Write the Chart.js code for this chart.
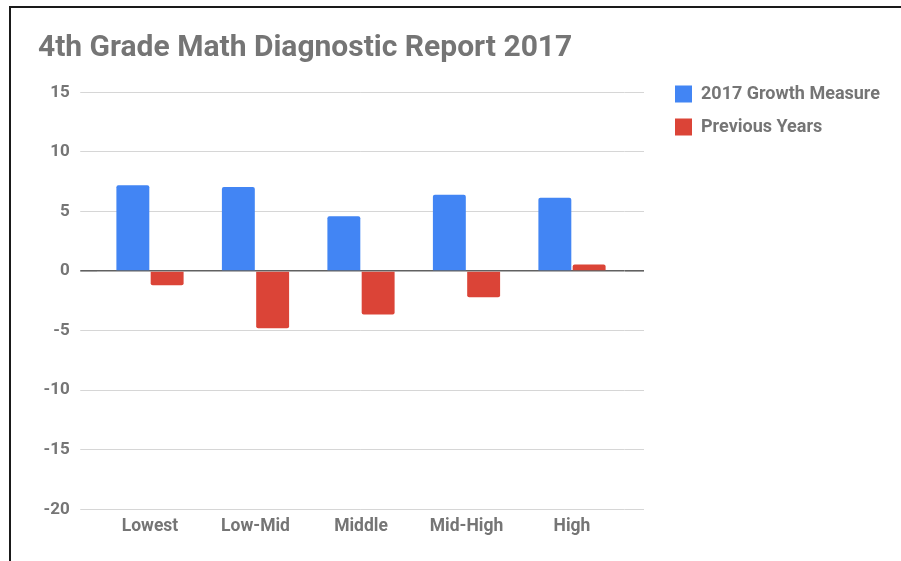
<!DOCTYPE html>
<html>
<head>
<meta charset="utf-8">
<script src="https://cdn.jsdelivr.net/npm/chart.js@4.4.0/dist/chart.umd.min.js"></script>
<style>
  html, body { margin: 0; padding: 0; background: #fff; }
  #wrap { position: relative; width: 901px; height: 561px; overflow: hidden; }
  #frame { position: absolute; left: 9px; top: 6px; right: -4px; bottom: -4px;
           border-top: 2px solid #1a1a1a; border-left: 2px solid #1a1a1a; pointer-events: none; }
  canvas { position: absolute; left: 0; top: 0; }
</style>
</head>
<body>
<div id="wrap">
  <canvas id="c" width="901" height="561"></canvas>
  <div id="frame"></div>
</div>
<script>
const categories = ["Lowest", "Low-Mid", "Middle", "Mid-High", "High"];
const growth2017 = [7.2, 7.05, 4.6, 6.4, 6.15];
const previousYears = [-1.2, -4.8, -3.65, -2.2, 0.55];
const seriesNames = ["2017 Growth Measure", "Previous Years"];
const titleText = "4th Grade Math Diagnostic Report 2017";
const yMin = -20, yMax = 15, yStep = 5;

const GRAY = '#757575';
const FONT = 'Roboto';
const W = 901;
const LEGEND_LEFT = 660;
const LEGEND_W = W - LEGEND_LEFT;
const AREA_RIGHT = 624.75;

const gridColor = (ctx) => (ctx.tick && ctx.tick.value === 0) ? '#616161' : '#d6d6d6';
const gridWidth = (ctx) => (ctx.tick && ctx.tick.value === 0) ? 1.6 : 1;

// give the right-hand legend the room it needs (Chart.js caps side boxes otherwise)
const legendWidthPlugin = {
  id: 'legendWidth',
  beforeLayout(chart) {
    const lg = chart.legend;
    if (lg && !lg.__patched) {
      const orig = lg.fit;
      lg.fit = function () { orig.call(this); this.width = LEGEND_W; };
      lg.__patched = true;
    }
  }
};

new Chart(document.getElementById('c'), {
  type: 'bar',
  plugins: [legendWidthPlugin],
  data: {
    labels: categories,
    datasets: [
      { label: seriesNames[0], data: growth2017, backgroundColor: '#4285F4', borderRadius: 2,
        barPercentage: 0.96, categoryPercentage: 0.65 },
      { label: seriesNames[1], data: previousYears, backgroundColor: '#DB4437', borderRadius: 2,
        barPercentage: 0.96, categoryPercentage: 0.65 }
    ]
  },
  options: {
    responsive: false,
    animation: false,
    devicePixelRatio: 1,
    layout: { padding: { left: 38, right: 0, top: 0, bottom: 16.6 } },
    plugins: {
      tooltip: { enabled: false },
      title: {
        display: true, text: titleText, align: 'start', color: GRAY,
        font: { family: FONT, size: 30, weight: 'bold', lineHeight: 1.2 },
        padding: { top: 30.1, bottom: 26.2 }
      },
      legend: {
        display: true, position: 'right', align: 'start', fullSize: true,
        title: { display: true, text: '', font: { size: 10, lineHeight: 1.2 }, padding: { top: 58, bottom: 0 } },
        labels: {
          boxWidth: 17, boxHeight: 17, padding: 15, color: GRAY,
          font: { family: FONT, size: 18, weight: 'bold' }
        }
      }
    },
    scales: {
      x: {
        grid: { display: false, drawTicks: false },
        border: { display: false },
        ticks: { color: GRAY, padding: 7, font: { family: FONT, size: 17.5, weight: 'bold' } }
      },
      y: {
        position: 'left',
        min: yMin, max: yMax,
        ticks: { stepSize: yStep, color: GRAY, padding: 10.5, font: { family: FONT, size: 17, weight: 'bold' } },
        grid: { color: gridColor, lineWidth: gridWidth, tickLength: 17, drawTicks: true },
        border: { display: false },
        afterFit: (s) => { s.width = 59.25; }
      },
      y2: {
        position: 'right',
        min: yMin, max: yMax,
        ticks: { stepSize: yStep, display: false },
        grid: { color: gridColor, lineWidth: gridWidth, tickLength: 19.25, drawTicks: true, drawOnChartArea: false },
        border: { display: false },
        afterFit: (s) => { s.width = LEGEND_LEFT - AREA_RIGHT; }
      }
    }
  }
});
</script>
</body>
</html>
